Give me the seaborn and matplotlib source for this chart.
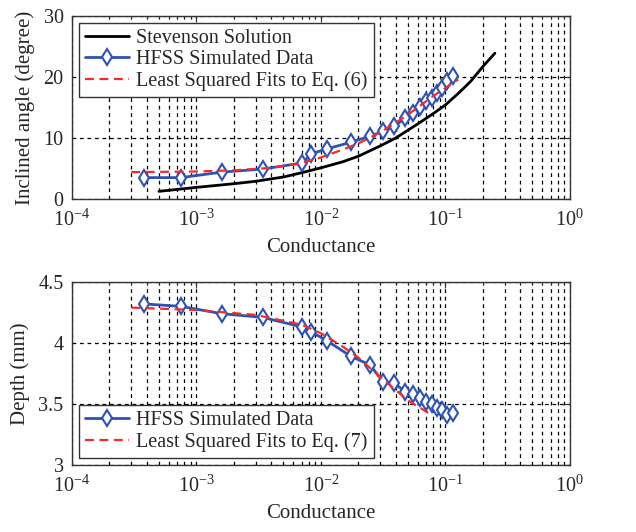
import numpy as np
import pandas as pd
import matplotlib
matplotlib.use('Agg')
import matplotlib.pyplot as plt
import seaborn as sns
from matplotlib.ticker import LogLocator, NullFormatter

# --- data ---
hfss_g = [3.8e-4, 7.5e-4, 1.6e-3, 3.4e-3, 7.1e-3, 8.4e-3, 1.11e-2, 1.75e-2, 2.48e-2, 3.18e-2,
          3.9e-2, 4.75e-2, 5.5e-2, 6.2e-2, 7.0e-2, 7.8e-2, 8.6e-2, 9.4e-2, 0.104, 0.116]
hfss_angle = [3.5, 3.5, 4.4, 4.9, 5.9, 7.4, 8.2, 9.3, 10.3, 11.1,
              11.9, 13.3, 14.1, 15.1, 16.0, 16.5, 17.3, 18.2, 19.3, 20.2]
hfss_depth = [4.32, 4.30, 4.24, 4.21, 4.13, 4.09, 4.02, 3.89, 3.82, 3.68,
              3.67, 3.60, 3.58, 3.55, 3.52, 3.50, 3.47, 3.45, 3.41, 3.43]

stev_g = [5e-4, 1e-3, 2e-3, 3e-3, 5e-3, 7e-3, 1e-2, 1.5e-2, 2e-2, 3e-2,
          4e-2, 6e-2, 8e-2, 0.1, 0.13, 0.16, 0.2, 0.25]
stev_angle = [1.25, 1.9, 2.5, 2.9, 3.6, 4.3, 5.1, 6.1, 7.0, 8.7,
              10.0, 12.3, 14.0, 15.4, 17.5, 19.3, 21.7, 23.9]

fit6_g = [3e-4, 1e-3, 2e-3, 4e-3, 7e-3, 1e-2, 1.5e-2, 2e-2, 3e-2, 5e-2, 8e-2, 0.127]
fit6_angle = [4.4, 4.5, 4.7, 5.1, 5.9, 6.8, 8.1, 9.1, 10.9, 13.8, 16.9, 19.6]

fit7_g = [3e-4, 1e-3, 3e-3, 7e-3, 1e-2, 1.5e-2, 2e-2, 3e-2, 5e-2, 7.5e-2]
fit7_depth = [4.29, 4.27, 4.23, 4.15, 4.08, 3.97, 3.88, 3.72, 3.53, 3.42]

# --- style ---
sns.set_style("white")
plt.rcParams['font.family'] = ['Liberation Serif', 'DejaVu Serif']
plt.rcParams['mathtext.fontset'] = 'custom'
plt.rcParams['mathtext.rm'] = 'Liberation Serif'
plt.rcParams['mathtext.it'] = 'Liberation Serif:italic'
plt.rcParams['font.size'] = 14

blue = '#2E52B2'
red = '#F52A2A'

fig = plt.figure(figsize=(6.36, 5.32), dpi=100)
ax1 = fig.add_axes([0.113, 0.626, 0.783, 0.344])
ax2 = fig.add_axes([0.113, 0.126, 0.783, 0.344])


def style_axis(ax):
    ax.set_xscale('log')
    ax.set_xlim(1e-4, 1)
    ax.xaxis.set_major_locator(LogLocator(base=10, numticks=10))
    ax.xaxis.set_minor_locator(LogLocator(base=10, subs=np.arange(2, 10), numticks=20))
    ax.xaxis.set_minor_formatter(NullFormatter())
    ax.grid(True, which='major', color='black', linestyle=(0, (3, 3)), linewidth=0.9)
    ax.grid(True, which='minor', axis='x', color='black', linestyle=(0, (3, 3)), linewidth=0.9)
    ax.tick_params(which='both', direction='in', top=True, right=True, labelsize=14.5,
                   length=4, color='#333333')
    ax.tick_params(axis='x', which='major', pad=8)
    ax.tick_params(axis='y', which='major', pad=6)
    ax.tick_params(which='minor', length=2.5)
    for sp in ax.spines.values():
        sp.set_color('#333333')
        sp.set_linewidth(1.0)
    ax.set_xlabel('Conductance', fontsize=15, labelpad=5)


# top panel
df_stev = pd.DataFrame({'g': stev_g, 'v': stev_angle})
df_h1 = pd.DataFrame({'g': hfss_g, 'v': hfss_angle})
df_f6 = pd.DataFrame({'g': fit6_g, 'v': fit6_angle})

sns.lineplot(data=df_stev, x='g', y='v', ax=ax1, color='black', linewidth=2,
             label='Stevenson Solution', sort=False)
sns.lineplot(data=df_h1, x='g', y='v', ax=ax1, color=blue, linewidth=2, marker='d',
             markersize=8.5, markerfacecolor='white', markeredgecolor=blue, markeredgewidth=1.5,
             label='HFSS Simulated Data', sort=False)
sns.lineplot(data=df_f6, x='g', y='v', ax=ax1, color=red, linewidth=1.6, linestyle=(0, (4, 2.5)),
             label='Least Squared Fits to Eq. (6)', sort=False)
style_axis(ax1)
ax1.set_ylim(0, 30)
ax1.set_yticks([0, 10, 20, 30])
ax1.set_ylabel('Inclined angle (degree)', fontsize=15, labelpad=6)
leg1 = ax1.legend(loc='upper left', fontsize=14.5, frameon=True, fancybox=False,
                  edgecolor='#333333', framealpha=1, borderpad=0.3, labelspacing=0.1,
                  handlelength=2.2, handletextpad=0.35, borderaxespad=0.35)
leg1.get_frame().set_linewidth(1.0)

# bottom panel
df_h2 = pd.DataFrame({'g': hfss_g, 'v': hfss_depth})
df_f7 = pd.DataFrame({'g': fit7_g, 'v': fit7_depth})

sns.lineplot(data=df_h2, x='g', y='v', ax=ax2, color=blue, linewidth=2, marker='d',
             markersize=8.5, markerfacecolor='white', markeredgecolor=blue, markeredgewidth=1.5,
             label='HFSS Simulated Data', sort=False)
sns.lineplot(data=df_f7, x='g', y='v', ax=ax2, color=red, linewidth=1.6, linestyle=(0, (4, 2.5)),
             label='Least Squared Fits to Eq. (7)', sort=False)
style_axis(ax2)
ax2.set_ylim(3, 4.5)
ax2.set_yticks([3, 3.5, 4, 4.5])
ax2.set_yticklabels(['3', '3.5', '4', '4.5'])
ax2.set_ylabel('Depth (mm)', fontsize=15, labelpad=6)
leg2 = ax2.legend(loc='lower left', fontsize=14.5, frameon=True, fancybox=False,
                  edgecolor='#333333', framealpha=1, borderpad=0.3, labelspacing=0.1,
                  handlelength=2.2, handletextpad=0.35, borderaxespad=0.35)
leg2.get_frame().set_linewidth(1.0)

fig.savefig('out.png', dpi=100)
